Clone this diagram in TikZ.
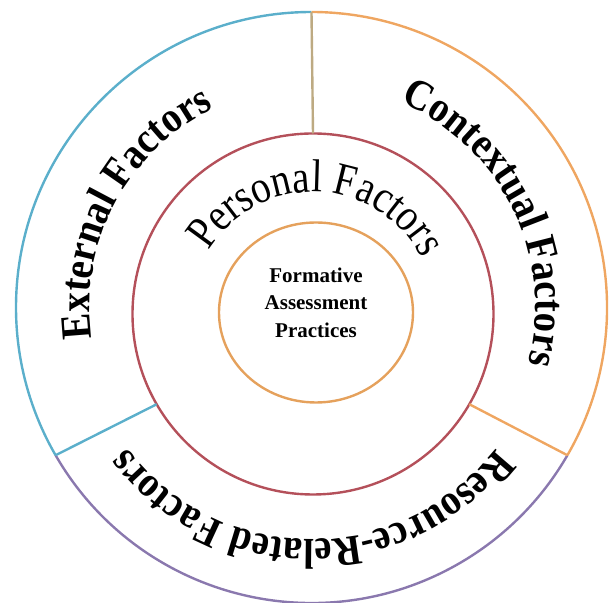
\documentclass[tikz,border=0pt]{standalone}
\usepackage{fontspec}
\setmainfont{Liberation Serif}
\newfontfamily\ringfont[FakeStretch=0.9]{Liberation Serif}
\newfontfamily\personalfont[FakeStretch=0.85]{Liberation Serif}
\usepackage{tikz}
\usetikzlibrary{calc,shapes.geometric,decorations.text}

\definecolor{extblue}{HTML}{5BAFCB}
\definecolor{ctxorange}{HTML}{EFA661}
\definecolor{respurple}{HTML}{8A78AE}
\definecolor{perred}{HTML}{B4505A}
\definecolor{coreorange}{HTML}{E5A15C}
\definecolor{divtan}{HTML}{BDAA82}

\begin{document}
\begin{tikzpicture}[
    x=0.5pt, y=0.5pt,
    ring/.style={circle, draw, line width=1.2pt, inner sep=0pt, outer sep=0pt},
    edge/.style={line width=1.2pt},
    outerlabel/.style={decorate, decoration={text along path, text align=center,
        text={|\ringfont\bfseries\fontsize{21.5}{26}\selectfont|#1}}},
    innerlabel/.style={decorate, decoration={text along path, text align=center,
        text={|\personalfont\fontsize{23}{27}\selectfont|#1}}}
]

\useasboundingbox (0,0) rectangle (612,-603);

\node [ring, draw=none, minimum size=295.5pt] (outerring) at (311.5,-307.5) {};
\node [ring, draw=perred, minimum size=180.5pt] (personal) at (313,-314) {};
\node [ellipse, draw=coreorange, line width=1.2pt, minimum width=97pt, minimum height=90pt, inner sep=0pt, outer sep=0pt] (core) at (316,-312.5) {};
\node [font=\bfseries\fontsize{10.5}{13.75}\selectfont, align=center] (practices) at ([yshift=5pt]core.center) {Formative\\Assessment\\Practices};

\draw [edge, extblue] (outerring.90) arc[start angle=90, end angle=210, radius=295.5];
\draw [edge, respurple] (outerring.210) arc[start angle=210, end angle=330, radius=295.5];
\draw [edge, ctxorange] (outerring.330) arc[start angle=-30, end angle=90, radius=295.5];

\draw [edge, divtan] (outerring.90) -- (personal.90);
\draw [edge, extblue] (outerring.210) -- (personal.210);
\draw [edge, ctxorange] (outerring.330) -- (personal.330);

\path [outerlabel={External Factors}] ($(outerring.center)+(210:222)$) arc[start angle=210, end angle=94, radius=222];
\path [outerlabel={Contextual Factors}] ($(outerring.center)+(84:224)$) arc[start angle=84, end angle=-32, radius=224];
\path [outerlabel={Resource-Related Factors}] ($(outerring.center)+(-25:232)$) arc[start angle=-25, end angle=-155, radius=232];
\path [innerlabel={Personal Factors}] ($(personal.center)+(160:122)$) arc[start angle=160, end angle=16, radius=122];

\end{tikzpicture}
\end{document}
